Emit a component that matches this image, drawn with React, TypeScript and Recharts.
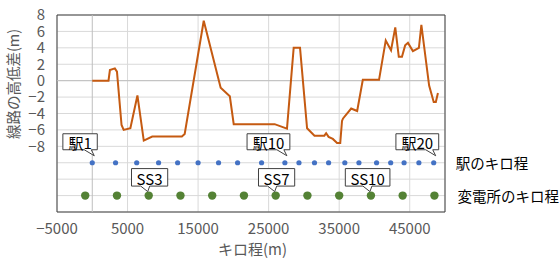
import { ScatterChart, Scatter, XAxis, YAxis, CartesianGrid, ReferenceLine, ReferenceArea } from 'recharts';

const FONT = '"Noto Sans CJK JP", "Noto Sans", sans-serif';

// 線路の高低差 (キロ程 m, 高低差 m)
const profileKm = [
  0, 2300, 2500, 3200, 3500, 4150, 4450, 5400, 6400, 7300, 8500, 12700, 13100, 15800, 18200, 19500, 20050,
  25850, 27600, 28550, 29450, 30450, 31500, 32900, 33150, 33500, 34100, 34700, 35150, 35400, 35550, 36700,
  37550, 38350, 40650, 41600, 42350, 42950, 43450, 43900, 44350, 44750, 45450, 46300, 46650, 47750, 48400,
  48700, 49000,
];
const profileHeight = [
  0, 0, 1.3, 1.5, 1.1, -5.4, -6.0, -5.8, -1.8, -7.3, -6.8, -6.8, -6.5, 7.3, -0.85, -1.9, -5.3,
  -5.3, -5.85, 4.0, 4.0, -5.8, -6.7, -6.7, -6.4, -6.85, -7.1, -7.6, -7.6, -4.9, -4.6, -3.4,
  -3.7, 0.1, 0.1, 4.9, 3.7, 6.5, 2.9, 2.9, 4.3, 4.6, 3.6, 4.0, 6.8, -0.6, -2.6,
  -2.6, -1.5,
];

// 駅のキロ程
const stationKm = [
  0, 3300, 6300, 9400, 12100, 15000, 17900, 20600, 24000, 27300,
  29300, 31500, 33500, 35800, 37800, 40300, 42300, 44200, 46300, 48400,
];
const stationLevel = -10;
const stationLabelNo = [1, 10, 20];

// 変電所のキロ程
const substationKm = [-1000, 3500, 8000, 12500, 17000, 21500, 26000, 30500, 35000, 39500, 44000, 48500];
const substationLevel = -14;
const substationLabelNo = [3, 7, 10];

const xTicks = [-5000, 5000, 15000, 25000, 35000, 45000];
const yTicks = [-16, -14, -12, -10, -8, -6, -4, -2, 0, 2, 4, 6, 8];

const profile = profileKm.map((x, i) => ({ x, y: profileHeight[i] }));
const stations = stationKm.map((x, i) => ({
  x,
  y: stationLevel,
  label: stationLabelNo.includes(i + 1) ? `駅${i + 1}` : '',
  name: i === stationKm.length - 1 ? '駅のキロ程' : '',
}));
const substations = substationKm.map((x, i) => ({
  x,
  y: substationLevel,
  label: substationLabelNo.includes(i + 1) ? `SS${i + 1}` : '',
  name: i === substationKm.length - 1 ? '変電所のキロ程' : '',
}));

const fmt = (v: number) => String(v).replace('-', '\u2212');

const textWidth = (s: string) => {
  let w = 0;
  for (const ch of s) w += /[\u3000-\u9fff]/.test(ch) ? 15 : 8.4;
  return w;
};

function Callout({ cx, cy, text, kind }: { cx: number; cy: number; text: string; kind: 'st' | 'ss' }) {
  const w = textWidth(text) + 11;
  const right = kind === 'st' ? cx + 5 : cx + 19;
  const left = right - w;
  const top = kind === 'st' ? cy - 29 : cy - 27;
  const bottom = kind === 'st' ? cy - 13 : cy - 9.5;
  const d =
    kind === 'st'
      ? `M${left},${top} H${right} V${bottom} H${cx - 1} L${cx + 2},${cy - 7} L${cx - 8},${bottom} H${left} Z`
      : `M${left},${top} H${right} V${bottom} H${cx + 1} L${cx - 1},${cy - 4} L${cx - 8},${bottom} H${left} Z`;
  return (
    <g>
      <path d={d} fill="#fff" stroke="#404040" strokeWidth={1} />
      <text x={(left + right) / 2} y={(top + bottom) / 2 + 1} textAnchor="middle" dominantBaseline="central" fontSize={15} fill="#000">
        {text}
      </text>
    </g>
  );
}

function StationDot(props: any) {
  const { cx, cy, payload } = props;
  return (
    <g>
      <circle cx={cx} cy={cy} r={2.6} fill="#4472C4" />
      {payload.label && <Callout cx={cx} cy={cy} text={payload.label} kind="st" />}
      {payload.name && (
        <text x={cx + 22} y={cy} dominantBaseline="central" fontSize={14.5} fill="#000">
          {payload.name}
        </text>
      )}
    </g>
  );
}

function SubstationDot(props: any) {
  const { cx, cy, payload } = props;
  return (
    <g>
      <circle cx={cx} cy={cy} r={4.2} fill="#548235" />
      {payload.label && <Callout cx={cx} cy={cy} text={payload.label} kind="ss" />}
      {payload.name && (
        <text x={cx + 23} y={cy} dominantBaseline="central" fontSize={14.5} fill="#000">
          {payload.name}
        </text>
      )}
    </g>
  );
}

export default function App() {
  return (
    <div style={{ position: 'absolute', left: 0, top: 0, background: '#fff' }}>
      <ScatterChart
        width={559}
        height={261}
        margin={{ top: 15, right: 114, bottom: 0, left: 0 }}
        style={{ fontFamily: FONT }}
      >
        <CartesianGrid stroke="#d9d9d9" strokeWidth={1} />
        <XAxis
          type="number"
          dataKey="x"
          domain={[-5000, 50000]}
          ticks={xTicks}
          interval={0}
          tickFormatter={fmt}
          axisLine={false}
          tickLine={false}
          tickSize={0}
          tickMargin={11}
          height={49}
          tick={{ fill: '#595959', fontSize: 15 }}
          label={{ value: 'キロ程(m)', position: 'center', dx: 1.5, dy: 13, fill: '#595959', fontSize: 15 }}
        />
        <YAxis
          type="number"
          dataKey="y"
          domain={[-16, 8]}
          ticks={yTicks}
          interval={0}
          tickFormatter={(v: number) => (v < -8 ? '' : fmt(v))}
          axisLine={false}
          tickLine={false}
          tickSize={0}
          tickMargin={12}
          width={57}
          tick={{ fill: '#595959', fontSize: 15 }}
          label={{ value: '線路の高低差(m)', angle: -90, position: 'center', dx: -14.5, dy: -29.5, fill: '#595959', fontSize: 14.5 }}
        />
        <ReferenceLine x={0} stroke="#bfbfbf" strokeWidth={1} />
        <ReferenceLine y={0} stroke="#bfbfbf" strokeWidth={1} />
        <ReferenceArea x1={-5000} x2={50000} y1={-16} y2={8} fill="none" stroke="#404040" strokeWidth={1} ifOverflow="visible" />
        <Scatter
          data={profile}
          line={{ stroke: '#C55A11', strokeWidth: 2 }}
          shape={() => <g />}
          isAnimationActive={false}
        />
        <Scatter data={stations} shape={StationDot} isAnimationActive={false} />
        <Scatter data={substations} shape={SubstationDot} isAnimationActive={false} />
      </ScatterChart>
    </div>
  );
}
